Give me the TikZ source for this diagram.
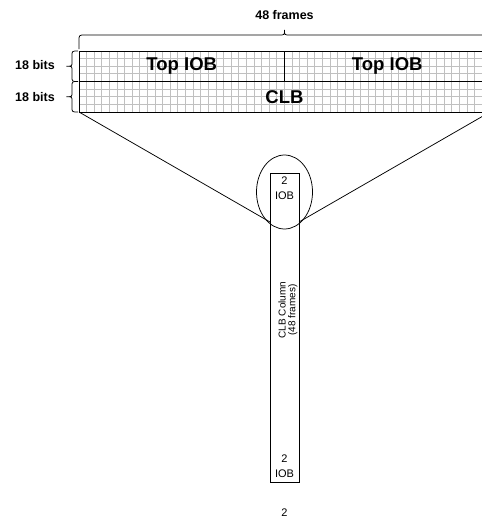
\documentclass[tikz,border=0pt]{standalone}
\usepackage{fontspec}
\setmainfont{Liberation Sans}
\usetikzlibrary{shapes.geometric}
\definecolor{gridgray}{RGB}{192,192,192}
\begin{document}
\begin{tikzpicture}[x=1pt,y=-1pt,
  blackline/.style={line width=0.75pt, draw=black},
  gridline/.style={line width=0.9pt, draw=gridgray},
  bigtext/.style={font=\fontsize{18.5}{20}\selectfont\bfseries, inner sep=0pt},
  labeltext/.style={font=\fontsize{12.5}{14}\selectfont\bfseries, inner sep=0pt},
  smalltext/.style={font=\fontsize{11}{12}\selectfont, inner sep=0pt}]
\useasboundingbox (0,0) rectangle (482,520);
% named points
\coordinate (tl) at (79,51);
\coordinate (ml) at (79,81.5);
\coordinate (bl) at (79,112);
\coordinate (tr) at (490,51);
\coordinate (mr) at (490,81.5);
\coordinate (br) at (490,112);
\coordinate (tm) at (284.5,51);
\coordinate (mm) at (284.5,81.5);
\coordinate (li) at (270,222);
\coordinate (ri) at (299,222);
\begin{scope}
\clip (0,0) rectangle (482,520);
% grid
\foreach \i in {1,...,53} \draw[gridline] ({79+\i*7.6111},51) -- ({79+\i*7.6111},112);
\foreach \y in {58.6,66.2,73.9,89.1,96.7,104.4} \draw[gridline] (79,\y) -- (490,\y);
% borders
\draw[blackline] (tl) -- (tr);
\draw[blackline] (ml) -- (mr);
\draw[blackline] (bl) -- (br);
\draw[blackline] (tl) -- (bl);
\draw[blackline] (tm) -- (mm);
% top brace
\draw[blackline] (79,49) -- (79,41) .. controls (79,35) .. (85,35) -- (279,35)
  .. controls (284.5,35) .. (284.5,30) .. controls (284.5,35) .. (290,35)
  -- (484,35) .. controls (490,35) .. (490,41) -- (490,49);
% connectors
\draw[blackline] (bl) -- (li);
\draw[blackline] (br) -- (ri);
\end{scope}
% left braces
\draw[blackline] (78,51) .. controls (72,51) .. (72,56) -- (72,62)
  .. controls (72,66.2) .. (66.5,66.2) .. controls (72,66.2) .. (72,70.5)
  -- (72,76.5) .. controls (72,81.5) .. (78,81.5);
\draw[blackline] (78,81.5) .. controls (72,81.5) .. (72,86.5) -- (72,92.5)
  .. controls (72,96.7) .. (66.5,96.7) .. controls (72,96.7) .. (72,101)
  -- (72,107) .. controls (72,112) .. (78,112);
% labels
\node[labeltext] (frames) at (284.5,15) {48 frames};
\node[labeltext] (bits1) at (35,65.5) {18 bits};
\node[labeltext] (bits2) at (35,97) {18 bits};
\node[bigtext] (iob1) at (181.75,66.2) {Top IOB};
\node[bigtext] (iob2) at (387.25,66.2) {Top IOB};
\node[bigtext] (clb) at (284.5,97) {CLB};
% column and ellipse
\node[draw, blackline, minimum width=29pt, minimum height=309pt, inner sep=0pt] (col) at (284.5,327.5) {};
\node[draw, blackline, ellipse, minimum width=56pt, minimum height=74pt, inner sep=0pt] (ell) at (284.5,192) {};
\node[smalltext] (t2) at (284.5,180.7) {2};
\node[smalltext] (tiob) at (284.5,195.7) {IOB};
\node[font=\fontsize{10}{9.8}\selectfont, inner sep=0pt, rotate=90, align=center] (cc) at (288,310) {CLB Column\\(48 frames)};
\node[smalltext] (b2) at (284.5,459) {2};
\node[smalltext] (biob) at (284.5,474) {IOB};
\node[smalltext] (page) at (284.5,513) {2};
\end{tikzpicture}
\end{document}
